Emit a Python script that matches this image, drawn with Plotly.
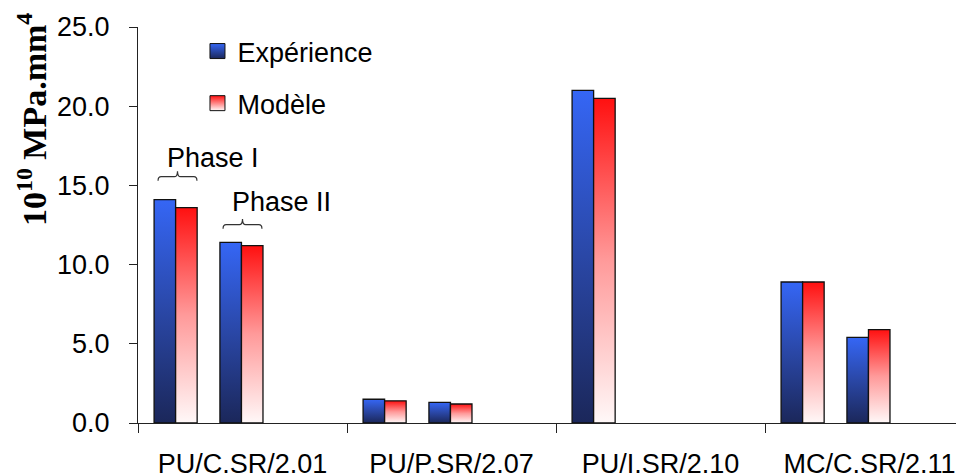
import plotly.graph_objects as go

# data
categories = ["PU/C.SR/2.01", "PU/P.SR/2.07", "PU/I.SR/2.10", "MC/C.SR/2.11"]
exp_phase1 = [14.1, 1.5, 21.0, 8.9]
mod_phase1 = [13.6, 1.4, 20.5, 8.9]
exp_phase2 = [11.4, 1.3, None, 5.4]
mod_phase2 = [11.2, 1.2, None, 5.9]
y_ticks = [0, 5, 10, 15, 20, 25]

BLUE_SCALE = [[0.0, '#1b275a'], [0.5, '#2a47a6'], [1.0, '#3566f5']]
RED_SCALE = [[0.0, '#fff8f8'], [0.5, '#ff9a9a'], [1.0, '#ff1010']]
FONT = 'Liberation Sans, Arial, sans-serif'
FS = 27

# page body has an 8px default margin, so the figure is a bit smaller
W, H = 956, 467
ML, MT, MB = 130, 19, 52
PLOT_W, PLOT_H = W - ML, H - MT - MB

BAR_W = 0.103
# left edge of each bar inside its category slot (category width = 1)
SLOTS = [
    (exp_phase1, 0.077, BLUE_SCALE),
    (mod_phase1, 0.180, RED_SCALE),
    (exp_phase2, 0.392, BLUE_SCALE),
    (mod_phase2, 0.495, RED_SCALE),
]

fig = go.Figure()

# each bar is a filled polygon so it can carry a vertical gradient
for values, offset, scale in SLOTS:
    for i, v in enumerate(values):
        if v is None:
            continue
        x0 = i + offset
        x1 = x0 + BAR_W
        fig.add_trace(go.Scatter(
            x=[x0, x0, x1, x1, x0],
            y=[0, v, v, 0, 0],
            mode='lines',
            fill='toself',
            fillgradient=dict(type='vertical', colorscale=scale),
            line=dict(color='#111111', width=1.3),
            showlegend=False,
            hoverinfo='skip',
        ))

# legend entries
for name, scale in [('Expérience', BLUE_SCALE), ('Modèle', RED_SCALE)]:
    fig.add_trace(go.Scatter(
        x=[None], y=[None], mode='markers', name=name, legendgroup=name,
        marker=dict(symbol='square', size=15, color=scale[-1][1],
                    gradient=dict(type='vertical', color=scale[0][1]),
                    line=dict(color='#111111', width=1)),
    ))


def brace_path(xa, xb, y_end, y_body, y_tip):
    """Small horizontal curly brace, opening downward."""
    xm = (xa + xb) / 2
    dx = (xb - xa) * 0.08
    return (f'M{xa},{y_end} Q{xa},{y_body} {xa + dx},{y_body} '
            f'L{xm - dx},{y_body} Q{xm},{y_body} {xm},{y_tip} '
            f'Q{xm},{y_body} {xm + dx},{y_body} '
            f'L{xb - dx},{y_body} Q{xb},{y_body} {xb},{y_end}')


fig.add_shape(type='path', xref='x', yref='y',
              path=brace_path(0.096, 0.282, 15.3, 15.55, 15.9),
              line=dict(color='#333333', width=1.2))
fig.add_shape(type='path', xref='x', yref='y',
              path=brace_path(0.407, 0.593, 12.27, 12.52, 12.88),
              line=dict(color='#333333', width=1.2))

fig.add_annotation(x=0.359, y=16.76, xref='x', yref='y', text='Phase I',
                   showarrow=False, font=dict(family=FONT, size=FS, color='black'))
fig.add_annotation(x=0.685, y=13.95, xref='x', yref='y', text='Phase II',
                   showarrow=False, font=dict(family=FONT, size=FS, color='black'))

# y-axis title (serif, bold, with superscripts), centred at page px (32, 120)
fig.add_annotation(x=(32 - 8 - ML) / PLOT_W, y=(PLOT_H + MT + 8 - 120) / PLOT_H,
                   xref='paper', yref='paper', xanchor='center', yanchor='middle',
                   text='<b>10<sup>10</sup> MPa.mm<sup>4</sup></b>',
                   textangle=-90, showarrow=False,
                   font=dict(family='Liberation Serif, Times New Roman, serif',
                             size=34, color='black'))

fig.update_layout(
    width=W, height=H,
    margin=dict(l=ML, r=0, t=MT, b=MB, autoexpand=False),
    paper_bgcolor='white', plot_bgcolor='white',
    font=dict(family=FONT, size=FS, color='black'),
    showlegend=True,
    legend=dict(x=0.072, y=1.0, xanchor='left', yanchor='top',
                bgcolor='rgba(0,0,0,0)', tracegroupgap=14,
                font=dict(family=FONT, size=FS, color='black')),
    xaxis=dict(
        range=[0, PLOT_W / 209], automargin=False,
        tickvals=[i + 0.5 for i in range(len(categories))],
        ticktext=categories,
        ticks='', showgrid=False, zeroline=False,
        showline=True, linecolor='#222222', linewidth=1.2,
        ticklabelstandoff=16,
        minor=dict(tickvals=list(range(len(categories) + 1)), ticks='outside',
                   ticklen=9, tickcolor='#222222', tickwidth=1.2, showgrid=False),
    ),
    yaxis=dict(
        range=[0, 25], automargin=False,
        tickvals=y_ticks, tickformat='.1f',
        ticks='outside', ticklen=8, tickcolor='#222222', tickwidth=1.2,
        showgrid=False, zeroline=False,
        showline=True, linecolor='#222222', linewidth=1.2,
        ticklabelstandoff=14,
    ),
)

fig.write_html("out.html")
